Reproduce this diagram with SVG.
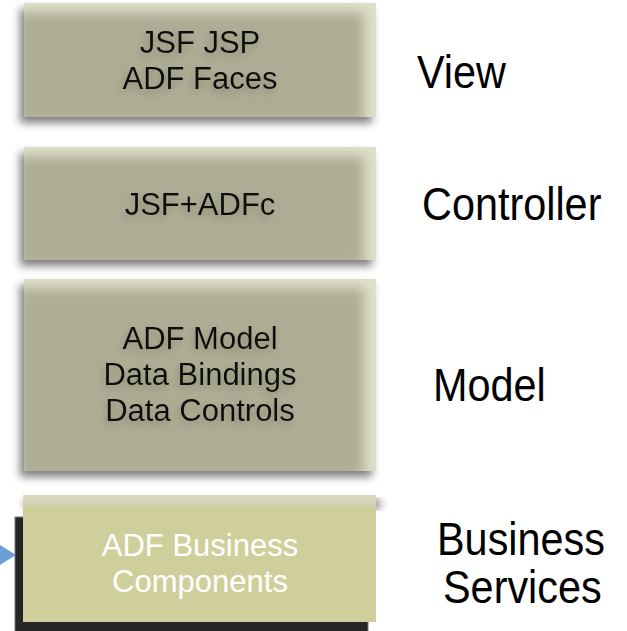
<svg xmlns="http://www.w3.org/2000/svg" width="627" height="631" viewBox="0 0 627 631">
<style>
.lbl{font-family:"Liberation Sans",Arial,sans-serif;font-size:46px;fill:#000}
.bt{font-family:"Liberation Sans",Arial,sans-serif;font-size:31px;fill:#111;text-anchor:middle}
.wt{font-family:"Liberation Sans",Arial,sans-serif;font-size:31px;fill:#fff;text-anchor:middle}
.edge{fill:#e0dfc9}
.core{fill:#aeae96;filter:url(#blur)}
.shadow{fill:#555;opacity:0.75;filter:url(#sblur)}
</style>
<defs>
<filter id="blur" x="-20%" y="-20%" width="140%" height="140%"><feGaussianBlur stdDeviation="6"/></filter>
<filter id="sblur" x="-20%" y="-20%" width="140%" height="140%"><feGaussianBlur stdDeviation="4"/></filter>
<filter id="tsh" x="-20%" y="-40%" width="140%" height="180%"><feGaussianBlur in="SourceAlpha" stdDeviation="4" result="b"/><feOffset dx="-2" dy="4" in="b" result="o"/><feFlood flood-color="#6d6d58" flood-opacity="0.6"/><feComposite in2="o" operator="in" result="s"/><feMerge><feMergeNode in="s"/><feMergeNode in="SourceGraphic"/></feMerge></filter>
<clipPath id="c1"><rect x="24" y="3" width="352" height="114"/></clipPath>
<clipPath id="c2"><rect x="24" y="147" width="352" height="113"/></clipPath>
<clipPath id="c3"><rect x="24" y="279" width="352" height="192"/></clipPath>
<linearGradient id="strip" x1="0" y1="0" x2="0" y2="1"><stop offset="0" stop-color="#dcdcc3"/><stop offset="1" stop-color="#cfcfae"/></linearGradient>
</defs>
<rect width="627" height="631" fill="#fff"/>

<g id="connectors">
<polygon points="0,545 16,555 0,565" fill="#6a9fd4"/>
</g>

<g id="view-box">
<rect class="shadow" x="20" y="9" width="352" height="114"/>
<rect class="edge" x="24" y="3" width="352" height="114"/>
<g clip-path="url(#c1)"><rect class="core" x="18" y="12" width="346" height="112"/></g>
<g filter="url(#tsh)"><text class="bt" x="200" y="53">JSF JSP</text><text class="bt" x="200" y="89">ADF Faces</text></g>
</g>

<g id="controller-box">
<rect class="shadow" x="20" y="153" width="352" height="113"/>
<rect class="edge" x="24" y="147" width="352" height="113"/>
<g clip-path="url(#c2)"><rect class="core" x="18" y="156" width="346" height="111"/></g>
<g filter="url(#tsh)"><text class="bt" x="200" y="215">JSF+ADFc</text></g>
</g>

<g id="model-box">
<rect class="shadow" x="20" y="285" width="352" height="192"/>
<rect class="edge" x="24" y="279" width="352" height="192"/>
<g clip-path="url(#c3)"><rect class="core" x="18" y="288" width="346" height="190"/></g>
<g filter="url(#tsh)"><text class="bt" x="200" y="349">ADF Model</text><text class="bt" x="200" y="385">Data Bindings</text><text class="bt" x="200" y="421">Data Controls</text></g>
</g>

<g id="business-box">
<rect x="15" y="517" width="353" height="120" fill="#262626" stroke="#777" stroke-width="1"/>
<rect class="shadow" x="25" y="499" width="355" height="10" opacity="0.4"/>
<rect x="23" y="495" width="353" height="13" fill="url(#strip)"/>
<rect x="23" y="507" width="353" height="115" fill="#cfcf9c"/>
<text class="wt" x="200" y="556">ADF Business</text>
<text class="wt" x="200" y="592">Components</text>
</g>

<g id="labels">
<text class="lbl" transform="translate(417,88) scale(0.9,1)">View</text>
<text class="lbl" transform="translate(422,220) scale(0.9,1)">Controller</text>
<text class="lbl" transform="translate(433,401) scale(0.9,1)">Model</text>
<text class="lbl" transform="translate(437,555) scale(0.9,1)">Business</text>
<text class="lbl" transform="translate(443,603) scale(0.9,1)">Services</text>
</g>
</svg>
